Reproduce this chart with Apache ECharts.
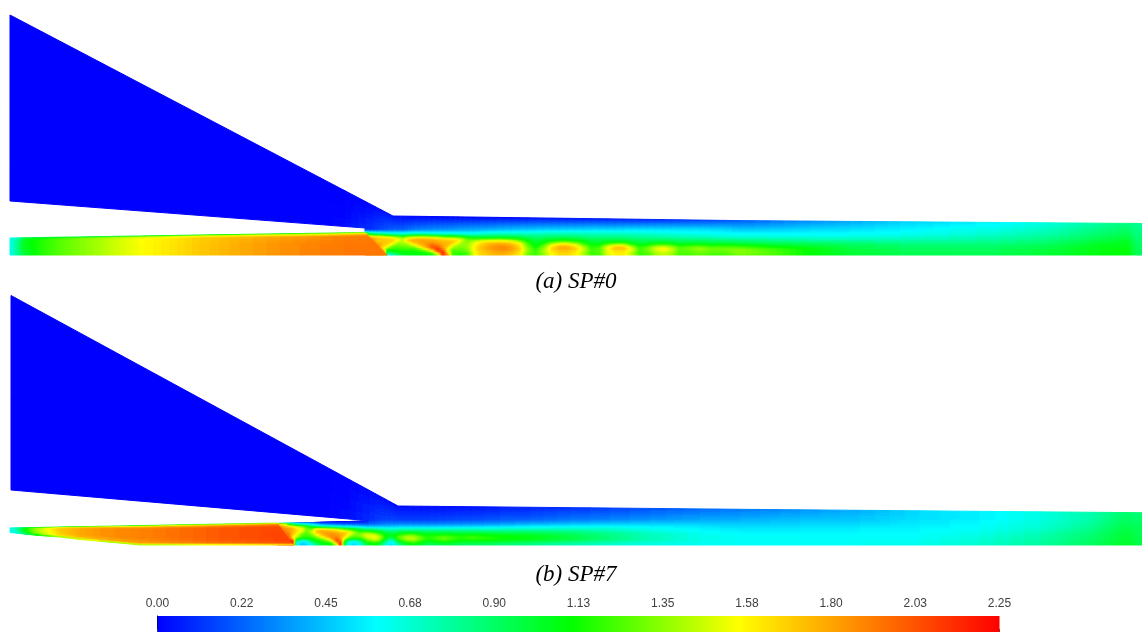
<!DOCTYPE html>
<html><head><meta charset="utf-8">
<style>html,body{margin:0;padding:0;background:#fff}#c{width:1142px;height:632px}</style>
<script src="https://cdn.jsdelivr.net/npm/echarts@6/dist/echarts.min.js"></script>
</head><body><div id="c"></div>
<script>
const scaleMax = 2.25;
const scaleLabels = ['0.00','0.22','0.45','0.68','0.90','1.13','1.35','1.58','1.80','2.03','2.25'];
const cmapStops = [0, 0.26, 0.49, 0.69, 1];
const cmapColors = [[0,0,255],[0,255,255],[0,255,0],[255,255,0],[255,0,0]];
const captions = ['(a) SP#0', '(b) SP#7'];

// Row heights above the duct floor
const mixRows = [0,2,4,6,8,10,12,14,16,18,21,25,99];

// ---- SP#0 ----
const wedgeAx = [10,320,345,365];
const wedgeAtop = [15,177.7,190.8,201.3];
const wedgeAbot = [201,224.6,226.5,228];
const wedgeRows = [0,0.5,0.8,1];
const wedgeAval = [[0,0,0,0],[0,0,0,0],[0,0,.01,.03],[0,0.04,0.07,0.1]];

const primAx = [10,18,25,40,60,80,100,120,145,170,200,240,280,320,345,365];
const primAxBot = [10,18,25,40,60,80,100,120,145,170,200,240,280,320,345,387];
const primAtop = [238,237.9,237.8,237.5,237.2,236.9,236.6,236.3,235.9,235.5,235,234.4,233.8,233.2,232.8,232.5];
const primAbot = 255;
const primArows = [0,0.07,0.18,0.5,1];
const primAval = [
[.6,.6,.6,.6,.6],[.7,.75,.8,.85,.8],[.9,1,1.05,1.05,1],[.9,1.1,1.15,1.15,1.15],
[.85,1.2,1.25,1.25,1.25],[.85,1.28,1.33,1.33,1.33],[.85,1.35,1.4,1.4,1.4],[.85,1.4,1.48,1.48,1.48],
[.9,1.45,1.56,1.56,1.55],[.9,1.5,1.6,1.62,1.62],[.95,1.55,1.68,1.7,1.7],[1,1.55,1.75,1.78,1.78],
[1,1.55,1.8,1.85,1.85],[1.05,1.55,1.85,1.9,1.9],[1.1,1.6,1.9,1.92,1.92],[1.2,1.7,1.9,1.93,1.93]];

const wallAx = [365,393,740,1142];
const wallAy = [201.3,216,220.6,223.5];
const floorA = 255;
const mixAx = [365,372,378,384,388,393,398,403,408,414,420,426,432,438,443,448,453,458,463,468,474,480,488,496,504,512,520,528,536,544,552,560,568,576,584,592,600,608,616,624,632,640,648,656,664,672,680,690,700,712,725,740,770,810,850,900,950,1000,1050,1100,1128,1136,1142];
const mixA = [
[1.9,1.9,1.9,1.9,1.9,1.9,1.9,1.9,1.9,1.8,1.2,.1,0],
[1.9,1.9,1.9,1.9,1.9,1.9,1.9,1.9,1.85,1.6,.9,.12,0],
[1.9,1.9,1.9,1.9,1.9,1.85,1.75,1.7,1.7,1.6,.8,.15,.02],
[1.9,1.9,1.85,1.6,1.65,1.7,1.72,1.7,1.68,1.55,.75,.18,.03],
[.6,.85,1.05,1.25,1.55,1.65,1.7,1.68,1.65,1.45,.7,.2,.04],
[.65,1,1.12,1.2,1.28,1.45,1.62,1.68,1.62,1.4,.65,.22,.03],
[.85,1.05,1.12,1.2,1.25,1.3,1.42,1.55,1.55,1.3,.65,.22,.02],
[1,1.08,1.15,1.2,1.28,1.35,1.4,1.42,1.42,1.2,.65,.22,.01],
[1.05,1.08,1.15,1.22,1.3,1.38,1.5,1.68,1.6,1.3,.68,.25,.01],
[1.05,1.08,1.15,1.22,1.36,1.55,1.72,1.78,1.68,1.38,.7,.28,0],
[1.08,1.1,1.2,1.35,1.6,1.72,1.78,1.8,1.72,1.4,.7,.3,0],
[1.08,1.15,1.3,1.6,1.8,1.82,1.82,1.8,1.7,1.4,.68,.3,0],
[1.1,1.25,1.6,1.9,2.02,1.95,1.85,1.78,1.68,1.35,.66,.32,0],
[1.3,1.75,2.1,2.12,2,1.88,1.8,1.75,1.62,1.3,.65,.33,0],
[2.1,2.2,2.05,1.9,1.82,1.78,1.75,1.72,1.6,1.25,.65,.33,0],
[1.9,1.7,1.55,1.6,1.7,1.75,1.75,1.7,1.55,1.2,.64,.34,0],
[1.2,1.2,1.25,1.35,1.45,1.6,1.7,1.68,1.5,1.2,.64,.35,0],
[1.15,1.2,1.25,1.3,1.35,1.42,1.55,1.62,1.48,1.15,.63,.36,0],
[1.15,1.2,1.25,1.3,1.35,1.35,1.38,1.45,1.4,1.1,.62,.37,0],
[1.2,1.25,1.3,1.35,1.38,1.38,1.35,1.3,1.22,1.02,.6,.38,0],
[1.5,1.52,1.55,1.56,1.56,1.52,1.48,1.38,1.18,.95,.62,.38,0],
[1.65,1.65,1.68,1.7,1.68,1.65,1.6,1.45,1.18,.95,.65,.39,0],
[1.7,1.72,1.76,1.8,1.78,1.74,1.68,1.5,1.2,.95,.68,.4,0],
[1.75,1.78,1.82,1.85,1.85,1.8,1.7,1.52,1.2,.95,.7,.42,.01],
[1.75,1.8,1.84,1.88,1.88,1.8,1.7,1.52,1.2,.95,.7,.43,.01],
[1.7,1.74,1.8,1.82,1.8,1.74,1.66,1.46,1.15,.95,.7,.44,.01],
[1.6,1.62,1.66,1.68,1.65,1.6,1.5,1.28,1.1,.92,.7,.45,.01],
[1.3,1.32,1.35,1.35,1.3,1.25,1.18,1.08,1,.88,.7,.46,.02],
[1.2,1.2,1.2,1.15,1.1,1.05,1.02,.98,.92,.85,.7,.47,.02],
[1.35,1.38,1.4,1.35,1.3,1.2,1.1,1.02,.95,.86,.72,.48,.03],
[1.55,1.58,1.62,1.65,1.6,1.48,1.28,1.1,.98,.87,.72,.48,.03],
[1.65,1.68,1.72,1.78,1.75,1.62,1.38,1.15,1,.88,.72,.48,.03],
[1.65,1.68,1.72,1.78,1.75,1.62,1.38,1.15,1,.88,.72,.49,.03],
[1.58,1.6,1.65,1.68,1.62,1.5,1.28,1.1,.97,.87,.72,.49,.04],
[1.4,1.42,1.45,1.45,1.4,1.25,1.15,1.05,.93,.85,.7,.49,.04],
[1.2,1.2,1.2,1.2,1.15,1.1,1.02,.97,.9,.83,.7,.5,.05],
[1.22,1.25,1.25,1.25,1.2,1.1,1.02,.97,.9,.82,.7,.5,.05],
[1.48,1.5,1.52,1.55,1.5,1.3,1.12,1,.9,.82,.7,.5,.05],
[1.58,1.6,1.65,1.72,1.68,1.42,1.15,1,.9,.82,.69,.5,.06],
[1.58,1.6,1.65,1.72,1.68,1.42,1.15,1,.9,.82,.69,.51,.06],
[1.42,1.44,1.5,1.5,1.4,1.2,1.05,.95,.88,.8,.68,.52,.06],
[1.2,1.2,1.2,1.2,1.15,1.05,.98,.92,.85,.78,.68,.52,.06],
[1.22,1.25,1.3,1.3,1.25,1.1,1,.92,.85,.77,.67,.52,.07],
[1.38,1.4,1.45,1.5,1.4,1.2,1.05,.93,.84,.76,.66,.52,.08],
[1.45,1.48,1.55,1.6,1.45,1.22,1.05,.93,.84,.75,.65,.52,.09],
[1.38,1.4,1.45,1.45,1.35,1.18,1.02,.92,.83,.74,.64,.52,.1],
[1.22,1.25,1.25,1.25,1.2,1.08,.98,.9,.81,.73,.63,.52,.11],
[1.22,1.25,1.28,1.3,1.25,1.1,.98,.9,.8,.72,.62,.52,.12],
[1.28,1.3,1.35,1.38,1.28,1.12,1,.9,.8,.71,.62,.52,.13],
[1.22,1.25,1.28,1.28,1.2,1.08,.97,.88,.78,.69,.6,.51,.15],
[1.22,1.25,1.3,1.3,1.22,1.1,.97,.86,.76,.67,.59,.5,.18],
[1.3,1.35,1.35,1.3,1.2,1.05,.95,.85,.75,.66,.58,.46,.2],
[1.25,1.25,1.25,1.2,1.1,1,.9,.82,.73,.65,.57,.47,.25],
[1.1,1.1,1.1,1.08,1.02,.96,.87,.79,.71,.64,.57,.5,.32],
[1,1,.99,.97,.95,.91,.85,.77,.7,.64,.58,.52,.38],
[.95,.95,.94,.92,.9,.87,.82,.76,.71,.66,.6,.56,.47],
[.93,.93,.92,.9,.88,.85,.81,.77,.73,.69,.64,.6,.52],
[.95,.95,.93,.92,.9,.87,.84,.8,.76,.73,.69,.64,.57],
[1,1,.99,.97,.95,.92,.89,.86,.83,.8,.76,.72,.65],
[1.08,1.08,1.07,1.06,1.05,1.03,1,.97,.94,.91,.88,.84,.78],
[1.1,1.1,1.1,1.08,1.07,1.06,1.04,1.02,1,.97,.94,.9,.85],
[.95,.95,.95,.94,.93,.92,.91,.9,.88,.87,.85,.83,.8],
[.9,.9,.9,.9,.89,.89,.88,.88,.87,.86,.85,.83,.8]];

// ---- SP#7 ----
const wedgeBx = [11,330,350,369];
const wedgeBtop = [295.5,469,479.9,490.2];
const wedgeBbot = [490,517.4,519.1,520.7];
const wedgeBval = [[0,0,0,0],[0,0,0,0],[0,.01,.02,.04],[0.02,0.06,0.08,0.1]];

const primBx = [10,16,24,34,45,60,80,100,130,140,180,220,260,277];
const primBxBot = [10,16,24,34,45,60,80,100,130,140,180,220,260,293];
const primBtop = [528,527.9,527.7,527.6,527.3,527,526.7,526.3,525.8,525.6,524.8,524.1,523.3,523];
const primBbot = [532.5,533,534,535,536,537,539.5,541.3,544,545,545,545,545,545];
const primBrows = [0,0.08,0.2,0.7,0.94,1];
const primBval = [
[.6,.6,.6,.6,.6,.6],[.6,.7,.75,.7,.65,.6],[.75,1,1.05,1,.9,.8],[.85,1.25,1.35,1.3,1.2,.95],
[.9,1.42,1.52,1.48,1.38,1.05],[.9,1.55,1.7,1.68,1.6,1.2],[.95,1.65,1.8,1.78,1.7,1.25],[1,1.68,1.85,1.83,1.75,1.3],
[1,1.72,1.9,1.88,1.8,1.3],[1,1.72,1.9,1.88,1.8,1.3],[1.05,1.75,1.95,1.95,1.88,1.35],[1.1,1.8,2,2.02,1.95,1.45],
[1.15,1.85,2.05,2.05,2,1.5],[1.3,1.9,2.05,2.08,2.05,1.6]];

const wallBx = [277,368,369,398,740,1142];
const wallBy = [523.5,521,490.2,506,509.3,512.7];
const floorB = 545;
const mixBx = [277,285,290,293,297,302,307,312,317,322,327,332,337,341,345,350,355,360,365,368,369,375,380,385,390,395,398,407,414,421,428,436,444,452,462,472,484,500,530,570,610,650,700,740,800,860,920,980,1040,1090,1125,1142];
const mixB = [
[2,2,2,2,2,2,2,2,2,1.9,1.7,.7,.7],
[2,2,2,2,2,2,1.95,1.9,1.85,1.75,1.5,.6,.6],
[2.1,2.2,2.1,2,1.95,1.9,1.85,1.8,1.8,1.65,1,.5,.5],
[2.25,2.25,2.2,1.75,1.6,1.7,1.75,1.75,1.75,1.6,.9,.4,.4],
[.6,.65,.85,1.25,1.45,1.55,1.62,1.65,1.6,1.5,.7,.3,.3],
[.45,.5,.65,1.1,1.22,1.3,1.42,1.55,1.55,1.35,.6,.25,.25],
[.5,.55,.7,1.05,1.18,1.22,1.25,1.3,1.3,1.2,.55,.2,.2],
[.65,.75,1,1.12,1.22,1.32,1.42,1.42,1.25,1,.45,.15,.15],
[.8,1,1.12,1.22,1.38,1.55,1.68,1.7,1.5,.95,.35,.1,.1],
[1,1.08,1.18,1.35,1.6,1.72,1.78,1.78,1.5,.85,.25,.06,.06],
[1.05,1.12,1.3,1.55,1.75,1.82,1.82,1.75,1.45,.8,.2,.05,.05],
[1.1,1.25,1.55,1.8,1.88,1.85,1.82,1.7,1.4,.75,.2,.04,.04],
[1.4,1.8,2.05,2,1.88,1.82,1.78,1.65,1.35,.7,.18,.03,.03],
[2.2,2.15,1.95,1.82,1.78,1.78,1.72,1.55,1.3,.65,.16,.03,.03],
[.9,1,1.25,1.5,1.65,1.72,1.7,1.45,1.2,.6,.15,.03,.03],
[.55,.6,.75,1.2,1.35,1.5,1.6,1.38,1.1,.6,.15,.03,.03],
[.5,.55,.7,1.1,1.25,1.32,1.38,1.22,1,.55,.15,.03,.03],
[.6,.7,.85,1.15,1.3,1.32,1.25,1.1,.9,.52,.15,.03,.03],
[.85,.95,1.12,1.28,1.42,1.45,1.32,1.08,.82,.48,.18,.04,.04],
[1,1.1,1.28,1.42,1.5,1.5,1.32,1.05,.78,.45,.18,.05,.05],
[1,1.1,1.28,1.42,1.5,1.5,1.32,1.05,.78,.45,.2,.1,.02],
[1.1,1.2,1.38,1.52,1.55,1.45,1.22,1,.75,.45,.22,.12,.02],
[1,1.1,1.3,1.42,1.42,1.3,1.12,.95,.7,.45,.25,.14,.02],
[.7,.8,1,1.12,1.15,1.1,1,.85,.7,.45,.27,.15,.02],
[.52,.58,.7,.85,1.02,1.05,.95,.8,.65,.45,.28,.15,.02],
[.55,.62,.78,.95,1.08,1.05,.95,.8,.65,.47,.28,.15,.02],
[.75,.9,1.05,1.2,1.22,1.12,1,.85,.68,.48,.28,.14,.02],
[1,1.15,1.3,1.45,1.4,1.25,1.05,.85,.68,.48,.28,.14,.02],
[1.05,1.2,1.35,1.45,1.4,1.25,1.05,.85,.68,.48,.28,.14,.02],
[1,1.1,1.2,1.3,1.25,1.15,1,.85,.68,.48,.28,.14,.02],
[.9,1,1.1,1.15,1.15,1.08,.98,.83,.66,.48,.28,.14,.02],
[.9,1.05,1.15,1.2,1.2,1.1,.98,.83,.66,.48,.28,.15,.02],
[.95,1.1,1.2,1.3,1.25,1.12,.98,.83,.66,.48,.3,.15,.02],
[.95,1.05,1.15,1.22,1.2,1.1,.97,.83,.66,.48,.3,.16,.03],
[.9,1,1.1,1.15,1.15,1.07,.95,.82,.66,.49,.3,.17,.03],
[.88,1,1.1,1.2,1.2,1.1,.95,.82,.66,.5,.31,.17,.03],
[.88,1,1.1,1.18,1.15,1.08,.95,.8,.66,.5,.32,.18,.04],
[.85,.97,1.07,1.12,1.12,1.05,.93,.8,.66,.52,.34,.2,.05],
[.8,.92,1.02,1.07,1.07,1.02,.92,.8,.68,.55,.38,.22,.07],
[.72,.83,.93,.97,.97,.93,.87,.78,.68,.58,.42,.27,.1],
[.66,.75,.82,.85,.85,.83,.79,.73,.66,.58,.45,.3,.14],
[.62,.67,.72,.73,.73,.72,.69,.65,.61,.56,.47,.34,.18],
[.6,.62,.63,.63,.63,.62,.6,.58,.56,.53,.47,.38,.24],
[.6,.6,.6,.6,.59,.58,.57,.55,.53,.5,.46,.4,.27],
[.6,.6,.6,.6,.59,.58,.56,.55,.53,.51,.48,.44,.33],
[.6,.6,.6,.59,.59,.58,.57,.56,.55,.53,.5,.46,.4],
[.62,.62,.61,.6,.6,.59,.58,.58,.57,.55,.54,.52,.5],
[.68,.68,.67,.66,.65,.64,.62,.61,.6,.59,.58,.56,.55],
[.78,.78,.77,.76,.75,.74,.72,.7,.68,.67,.66,.65,.63],
[.9,.9,.89,.88,.88,.87,.85,.83,.82,.8,.78,.76,.74],
[1.02,1.02,1.01,1,1,.99,.98,.97,.96,.95,.93,.91,.88],
[.95,.95,.95,.94,.94,.93,.93,.92,.92,.91,.9,.88,.86]];

// ---- helpers ----
function colorAt(v){
  const t = Math.max(0, Math.min(1, v / scaleMax));
  let k = 0;
  while (k < cmapStops.length - 2 && t > cmapStops[k + 1]) k++;
  const f = (t - cmapStops[k]) / (cmapStops[k + 1] - cmapStops[k]);
  const a = cmapColors[k], b = cmapColors[k + 1];
  return 'rgb(' + a.map((c, i) => Math.round(c + (b[i] - c) * f)).join(',') + ')';
}
function lineAt(xs, ys, x){
  let k = 0;
  while (k < xs.length - 2 && x > xs[k + 1]) k++;
  return ys[k] + (ys[k + 1] - ys[k]) * (x - xs[k]) / (xs[k + 1] - xs[k]);
}
function sectionMesh(xTop, xBot, top, bot, rows, vals){
  return {vals, pts: xTop.map((x, j) => rows.map(r => {
    const yB = Array.isArray(bot) ? bot[j] : bot;
    return [x + (xBot[j] - x) * r, top[j] + (yB - top[j]) * r];
  }))};
}
function mixMesh(xs, wx, wy, floor, rows, vals){
  return {vals: vals.map(c => c.slice().reverse()), pts: xs.map(x => {
    const wall = lineAt(wx, wy, x);
    return rows.map(d => [x, Math.max(floor - d, wall)]).reverse();
  })};
}
function meshSeries(m){
  const data = [];
  for (let j = 0; j < m.pts.length - 1; j++)
    for (let i = 0; i < m.pts[0].length - 1; i++) data.push([j, i]);
  return {
    type: 'custom', coordinateSystem: 'cartesian2d', xAxisIndex: 0, yAxisIndex: 0,
    data, silent: true, animation: false, progressive: 0, clip: false,
    renderItem(params, api){
      const j = api.value(0), i = api.value(1);
      const p = [m.pts[j][i], m.pts[j + 1][i], m.pts[j + 1][i + 1], m.pts[j][i + 1]].map(q => api.coord(q));
      const v = [m.vals[j][i], m.vals[j + 1][i], m.vals[j + 1][i + 1], m.vals[j][i + 1]];
      const w = Math.max(Math.abs(p[1][0] - p[0][0]), Math.abs(p[2][0] - p[3][0]));
      const h = Math.max(Math.abs(p[3][1] - p[0][1]), Math.abs(p[2][1] - p[1][1]));
      const nx = Math.max(1, Math.min(Math.ceil(w), Math.ceil(Math.max(Math.abs(v[1] - v[0]), Math.abs(v[2] - v[3])) / 0.025)));
      const ny = Math.max(1, Math.min(Math.ceil(h), Math.ceil(Math.max(Math.abs(v[3] - v[0]), Math.abs(v[2] - v[1])) / 0.025)));
      const mapP = (a, b) => [0, 1].map(c =>
        (1 - a) * ((1 - b) * p[0][c] + b * p[3][c]) + a * ((1 - b) * p[1][c] + b * p[2][c]));
      const mapV = (a, b) => (1 - a) * ((1 - b) * v[0] + b * v[3]) + a * ((1 - b) * v[1] + b * v[2]);
      const children = [];
      for (let a = 0; a < nx; a++) for (let b = 0; b < ny; b++) {
        const a0 = a / nx, a1 = (a + 1) / nx, b0 = b / ny, b1 = (b + 1) / ny;
        const col = colorAt(mapV((a0 + a1) / 2, (b0 + b1) / 2));
        children.push({type: 'polygon', silent: true,
          shape: {points: [mapP(a0, b0), mapP(a1, b0), mapP(a1, b1), mapP(a0, b1)]},
          style: {fill: col, stroke: col, lineWidth: 1}});
      }
      return {type: 'group', children};
    }
  };
}

const meshes = [
  mixMesh(mixAx, wallAx, wallAy, floorA, mixRows, mixA),
  sectionMesh(wedgeAx, wedgeAx, wedgeAtop, wedgeAbot, wedgeRows, wedgeAval),
  sectionMesh(primAx, primAxBot, primAtop, primAbot, primArows, primAval),
  mixMesh(mixBx, wallBx, wallBy, floorB, mixRows, mixB),
  sectionMesh(wedgeBx, wedgeBx, wedgeBtop, wedgeBbot, wedgeRows, wedgeBval),
  sectionMesh(primBx, primBxBot, primBtop, primBbot, primBrows, primBval)
];

const barSeries = {
  type: 'custom', coordinateSystem: 'cartesian2d', xAxisIndex: 1, yAxisIndex: 1,
  data: [[0, 0, scaleMax, 1]], silent: true, animation: false,
  renderItem(params, api){
    const a = api.coord([api.value(0), api.value(1)]);
    const b = api.coord([api.value(2), api.value(3)]);
    return {type: 'rect', silent: true,
      shape: {x: a[0], y: b[1], width: b[0] - a[0], height: a[1] - b[1]},
      style: {fill: new echarts.graphic.LinearGradient(0, 0, 1, 0,
        cmapStops.map((s, i) => ({offset: s, color: 'rgb(' + cmapColors[i].join(',') + ')'})))}};
  }
};

const chart = echarts.init(document.getElementById('c'), null, {renderer: 'canvas'});
const capStyle = {fontFamily: '"Liberation Serif"', fontStyle: 'italic', fontWeight: 'normal', fontSize: 23, color: '#000'};
chart.setOption({
  animation: false,
  backgroundColor: '#fff',
  title: [
    {text: captions[0], left: 576, top: 270, textAlign: 'center', padding: 0, textStyle: capStyle},
    {text: captions[1], left: 576, top: 563, textAlign: 'center', padding: 0, textStyle: capStyle}
  ],
  grid: [
    {left: 0, top: 0, width: 1142, height: 632},
    {left: 157.5, top: 616, width: 842, height: 16}
  ],
  xAxis: [
    {type: 'value', gridIndex: 0, min: 0, max: 1142, show: false},
    {type: 'value', gridIndex: 1, min: 0, max: scaleMax, interval: 0.225, position: 'top',
     axisLine: {show: true, lineStyle: {color: '#707070', width: 1}},
     axisTick: {show: true, length: 3, lineStyle: {color: '#505050'}},
     splitLine: {show: false},
     axisLabel: {show: true, margin: 6, fontSize: 12, color: '#404040', fontFamily: '"Liberation Sans"',
       showMinLabel: true, showMaxLabel: true, formatter: (v) => scaleLabels[Math.round(v / 0.225)]}}
  ],
  yAxis: [
    {type: 'value', gridIndex: 0, min: 0, max: 632, inverse: true, show: false},
    {type: 'value', gridIndex: 1, min: 0, max: 1, position: 'right',
     axisLine: {show: true, lineStyle: {color: '#000', width: 1}},
     axisTick: {show: false}, axisLabel: {show: false}, splitLine: {show: false}}
  ],
  series: meshes.map(meshSeries).concat([barSeries])
});
</script></body></html>
